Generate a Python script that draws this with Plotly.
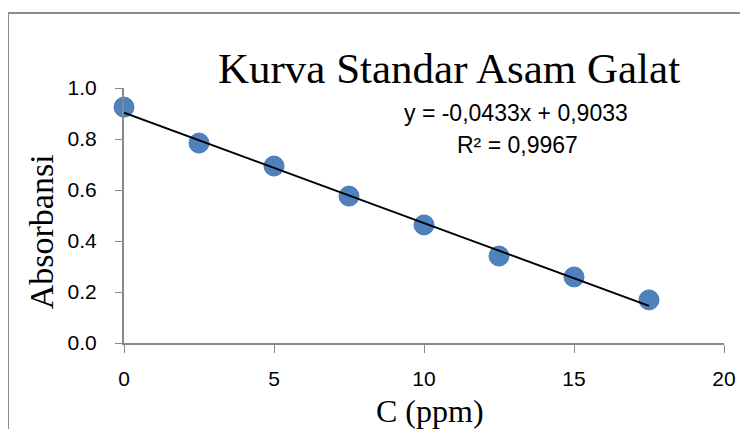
import plotly.graph_objects as go

conc = [0, 2.5, 5, 7.5, 10, 12.5, 15, 17.5]
absorb = [0.925, 0.784, 0.694, 0.576, 0.463, 0.341, 0.259, 0.169]
slope = -0.0433
intercept = 0.9033
eq_text = "y = -0,0433x + 0,9033"
r2_text = "R² = 0,9967"
title_text = "Kurva Standar Asam Galat"
x_title = "C (ppm)"
y_title = "Absorbansi"
x_ticks = [0, 5, 10, 15, 20]
y_ticks = [0, 0.2, 0.4, 0.6, 0.8, 1.0]

trend_x = [min(conc), max(conc)]
trend_y = [slope * v + intercept for v in trend_x]

serif = "Liberation Serif, Times New Roman, serif"
sans = "Liberation Sans, Arial, sans-serif"
axis_grey = "#898989"

fig = go.Figure()
fig.add_trace(go.Scatter(x=conc, y=absorb, mode="markers",
                         marker=dict(size=20, color="#4F81BD",
                                     line=dict(color="#4A7DBA", width=1)),
                         showlegend=False, cliponaxis=False))
fig.add_trace(go.Scatter(x=trend_x, y=trend_y, mode="lines",
                         line=dict(color="black", width=2), showlegend=False,
                         cliponaxis=False))

fig.update_layout(
    width=740, height=421,
    margin=dict(l=116, r=24, t=80, b=86),
    paper_bgcolor="white", plot_bgcolor="white",
    title=dict(text=title_text, xref="container", yref="container",
               x=0.596, xanchor="center", y=0.858, yanchor="middle",
               font=dict(family=serif, size=43, color="black")),
    xaxis=dict(range=[0, 20], tickvals=x_ticks, ticks="outside", ticklen=8,
               tickcolor=axis_grey, showline=True, linecolor=axis_grey, linewidth=2,
               showgrid=False, zeroline=False, ticklabelstandoff=8,
               tickfont=dict(family=sans, size=21, color="black")),
    yaxis=dict(range=[0, 1.0], tickvals=y_ticks, tickformat=".1f",
               ticks="outside", ticklen=7, tickcolor=axis_grey, showline=True,
               linecolor=axis_grey, linewidth=2, showgrid=False, zeroline=False,
               ticklabelstandoff=14,
               tickfont=dict(family=sans, size=21, color="black")),
    annotations=[
        dict(text=eq_text, xref="paper", yref="paper", x=0.653, y=0.902,
             xanchor="center", yanchor="middle", showarrow=False,
             font=dict(family=sans, size=23, color="black")),
        dict(text=r2_text, xref="paper", yref="paper", x=0.656, y=0.776,
             xanchor="center", yanchor="middle", showarrow=False,
             font=dict(family=sans, size=23, color="black")),
        dict(text=x_title, xref="paper", yref="paper", x=0.51, y=-0.265,
             xanchor="center", yanchor="middle", showarrow=False,
             font=dict(family=serif, size=32, color="black")),
        dict(text=y_title, xref="paper", yref="paper", x=-0.138, y=0.435,
             xanchor="center", yanchor="middle", showarrow=False, textangle=-90,
             font=dict(family=serif, size=34, color="black")),
    ],
    shapes=[dict(type="rect", xref="paper", yref="paper", x0=-0.1933, y0=-0.6,
                 x1=1.2, y1=1.294, line=dict(color="#8c8c8c", width=2),
                 fillcolor="rgba(0,0,0,0)", layer="below")],
)

fig.write_html("out.html")
